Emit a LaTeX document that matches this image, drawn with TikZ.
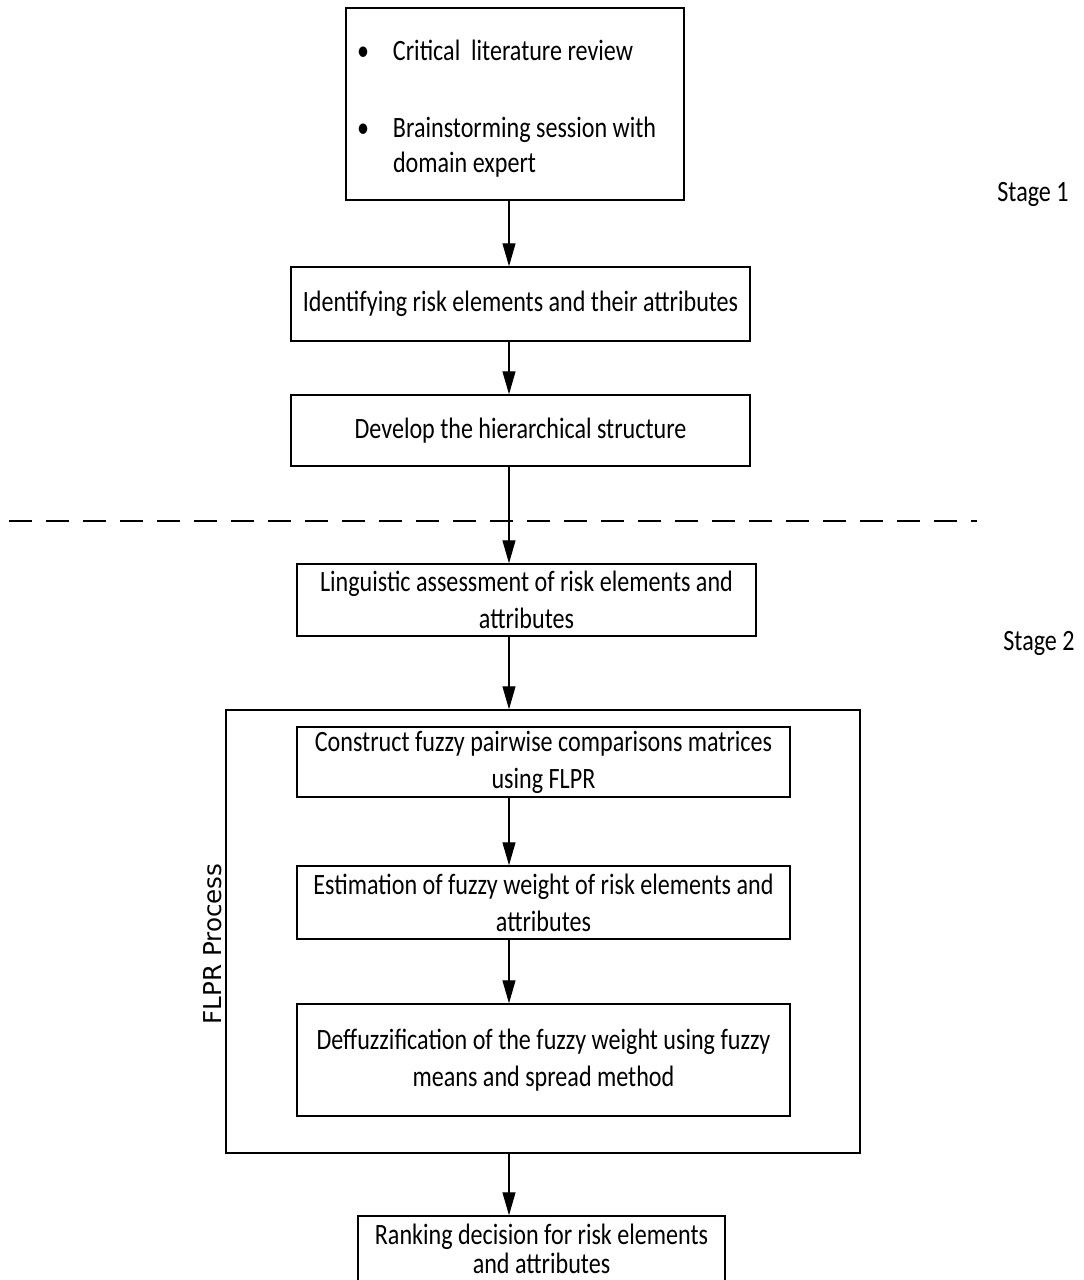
\documentclass[tikz,border=0pt]{standalone}
\usepackage{fontspec}
\setmainfont{Carlito}[FakeStretch=0.817]
\newfontfamily\flprfont{DejaVu Sans}
\usetikzlibrary{arrows.meta, calc, positioning}

\tikzset{
  box/.style={draw, line width=1.5pt, inner sep=0pt, align=center, font=\fontsize{29.5}{37}\selectfont},
  flow/.style={-{Triangle[length=23pt,width=13pt]}, line width=1.2pt},
}

\begin{document}
\begin{tikzpicture}[x=1pt, y=-1pt]
\clip (0,0) rectangle (1084,1280);
\node[box, minimum width=338pt, minimum height=192pt, align=left, font=\fontsize{29.5}{35}\selectfont] (lit) at (515,104)
  {\rule{0pt}{29pt}\makebox[36pt][l]{\textbullet}Critical\ \ literature review\\[42pt]
   \makebox[36pt][l]{\textbullet}\makebox[280pt][l]{Brainstorming session with}\\
   \hspace*{36pt}domain expert};
\node[box, minimum width=459pt, minimum height=74pt] (ident) at (520.5,304) {Identifying risk elements and their attributes};
\node[box, minimum width=459pt, minimum height=71pt] (hier) at (520.5,430.5) {Develop the hierarchical structure};
\node[box, minimum width=459pt, minimum height=72pt] (ling) at (526.5,600) {Linguistic assessment of risk elements and\\attributes};
\node[draw, line width=1.5pt, minimum width=634pt, minimum height=443pt] (flpr) at (543,931.5) {};
\node[box, minimum width=493pt, minimum height=70pt] (cons) at (543.5,762) {Construct fuzzy pairwise comparisons matrices\\using FLPR};
\node[box, minimum width=493pt, minimum height=73pt] (estim) at (543.5,902.5) {Estimation of fuzzy weight of risk elements and\\attributes};
\node[box, minimum width=493pt, minimum height=112pt] (defuzz) at (543.5,1060) {Deffuzzification of the fuzzy weight using fuzzy\\means and spread method};
\node[box, minimum width=367pt, minimum height=66pt, font=\fontsize{29.5}{29}\selectfont] (rank) at (541.5,1249) {Ranking decision for risk elements\\and attributes};
\node[rotate=90, font=\flprfont\fontsize{24.6}{30}\selectfont] (flprlbl) at (213,944) {FLPR Process};
\node[anchor=base, font=\fontsize{29.5}{37}\selectfont] (s1) at (1033,201) {Stage 1};
\node[anchor=base, font=\fontsize{29.5}{37}\selectfont] (s2) at (1039,650) {Stage 2};

% stage divider
\coordinate (dl) at (9,521);
\coordinate (dr) at (977,521);
\draw[line width=1.5pt, dash pattern=on 23pt off 14pt] (dl) -- (dr);

\coordinate (ax) at (509,0);
\draw
(lit.south -| ax) edge[flow] (ident.north -| ax)
(ident.south -| ax) edge[flow] (hier.north -| ax)
(hier.south -| ax) edge[flow] (ling.north -| ax)
(ling.south -| ax) edge[flow] (flpr.north -| ax)
(cons.south -| ax) edge[flow] (estim.north -| ax)
(estim.south -| ax) edge[flow] (defuzz.north -| ax)
(flpr.south -| ax) edge[flow] (rank.north -| ax);
\end{tikzpicture}
\end{document}
